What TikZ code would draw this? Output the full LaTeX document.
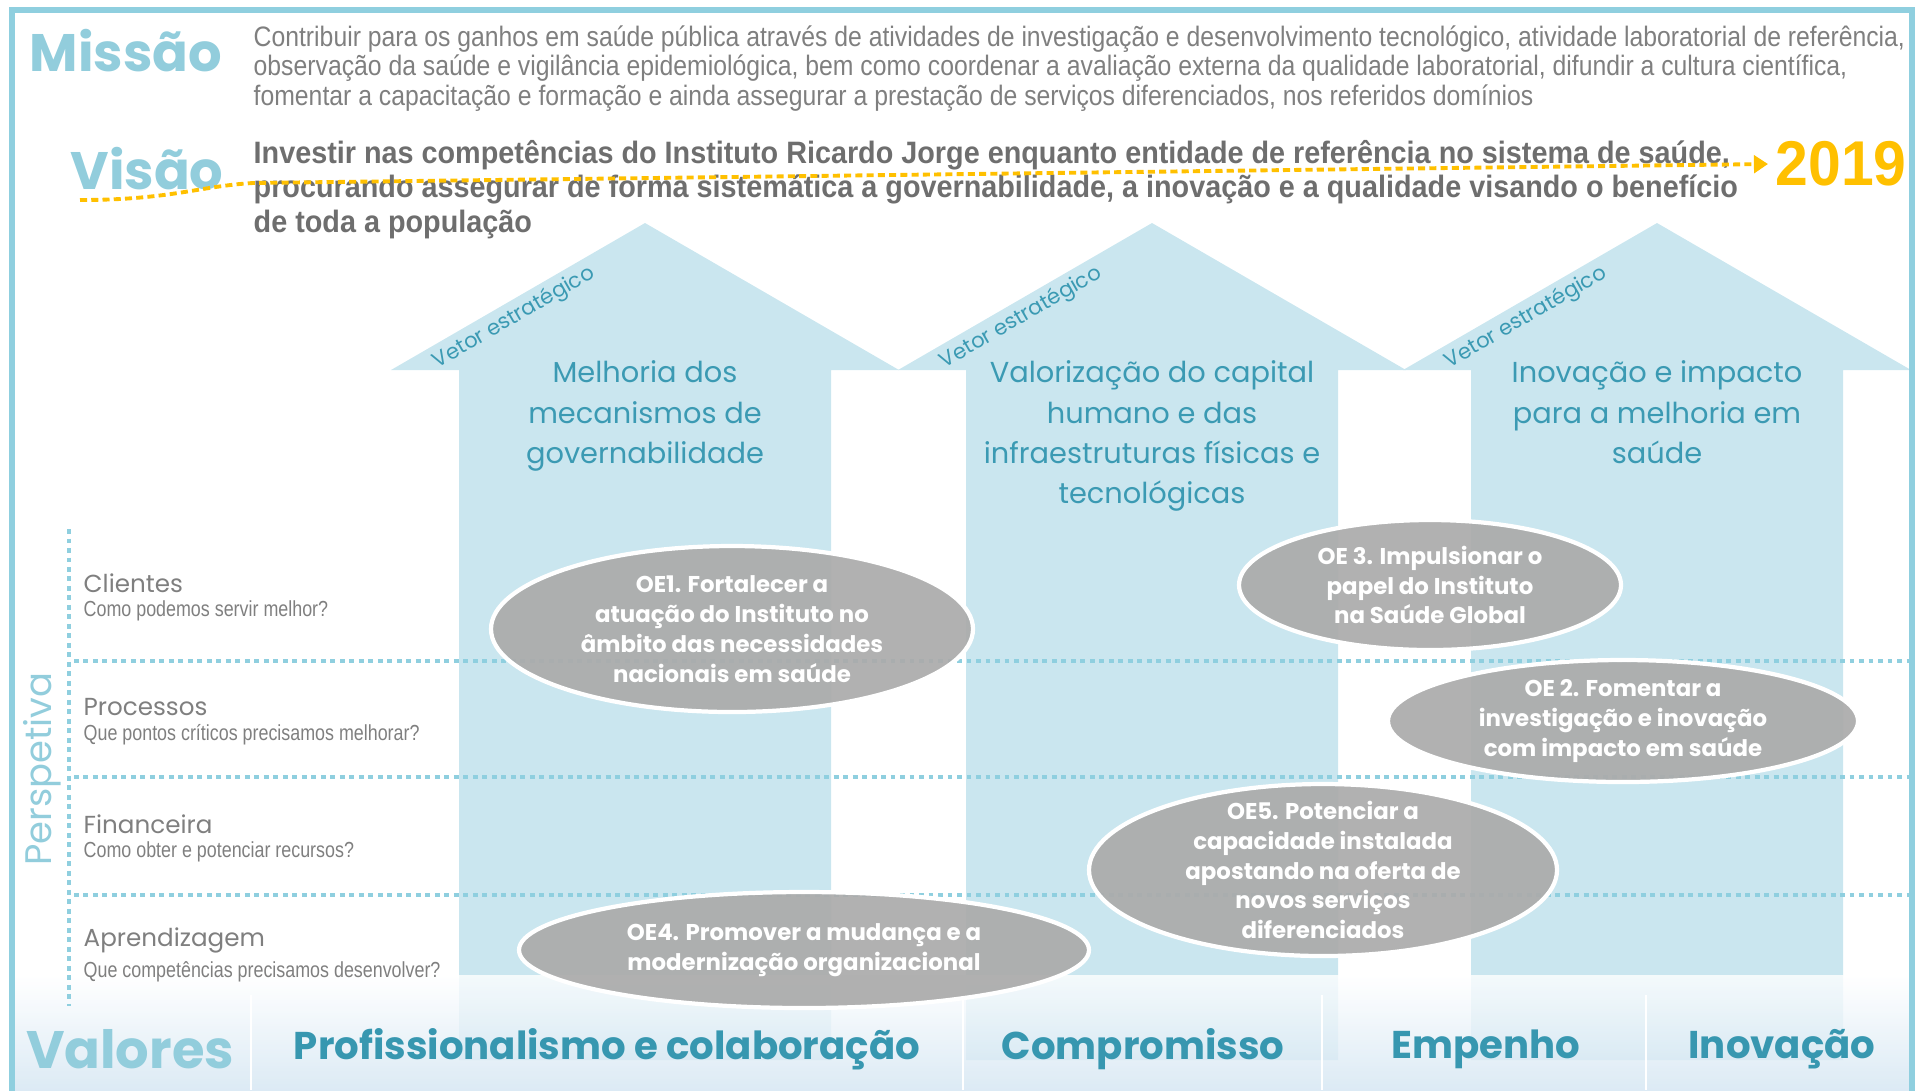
\documentclass[tikz,border=0pt]{standalone}
\usepackage{fontspec}
\setmainfont{Liberation Sans}
\newfontfamily\estreita[FakeStretch=0.82]{Liberation Sans}
\newfontfamily\estreitam[FakeStretch=0.88]{Liberation Sans}
\newfontfamily\estreitav[FakeStretch=0.93]{Liberation Sans}
\newfontfamily\gotica{Poppins}
\usetikzlibrary{positioning,arrows.meta}
\definecolor{azulclaro}{HTML}{CAE6EF}
\definecolor{azulmoldura}{HTML}{8FCFDF}
\definecolor{azultitulo}{HTML}{92CDDC}
\definecolor{azulescuro}{HTML}{3B9AB3}
\definecolor{azulvalor}{HTML}{3797B0}
\definecolor{cinza}{HTML}{7F7F7F}
\definecolor{cinzaesc}{HTML}{6E6E6E}
\definecolor{cinzaoe}{HTML}{ABABAB}
\definecolor{amarelo}{HTML}{FFC000}
\definecolor{faixa}{HTML}{D3E5F2}
\tikzstyle{vetor}=[fill=azulclaro]
\tikzstyle{pontilhado}=[draw=azulmoldura, line width=1.4pt, dash pattern=on 1.4pt off 1.3pt]
\tikzstyle{grande}=[font=\gotica\bfseries\fontsize{15}{15}\selectfont, text=azultitulo, inner sep=0pt]
\tikzstyle{missao}=[font=\estreitam\fontsize{8}{8.4}\selectfont, text=cinza, align=left, inner sep=0pt, anchor=north west]
\tikzstyle{visao}=[font=\estreitav\bfseries\fontsize{8.8}{9.7}\selectfont, text=cinzaesc, align=left, inner sep=0pt, anchor=north west]
\tikzstyle{ano}=[font=\estreitav\bfseries\fontsize{18}{18}\selectfont, text=amarelo, inner sep=0pt, anchor=west]
\tikzstyle{rotulo}=[font=\gotica\fontsize{6}{6}\selectfont, text=azulescuro, rotate=30, inner sep=0pt]
\tikzstyle{titulov}=[font=\gotica\fontsize{8.2}{11.5}\selectfont, text=azulescuro, align=center, inner sep=0pt, anchor=north]
\tikzstyle{persp}=[font=\gotica\fontsize{7}{7}\selectfont, text=cinza, inner sep=0pt, anchor=west]
\tikzstyle{pergunta}=[font=\estreita\fontsize{6.2}{6.2}\selectfont, text=cinza, inner sep=0pt]
\tikzstyle{oefundo}=[fill=cinzaoe, fill opacity=0.93, draw=white, line width=1.2pt]
\tikzstyle{oetexto}=[font=\gotica\bfseries\fontsize{6.5}{8.5}\selectfont, text=white, align=center, inner sep=0pt]
\tikzstyle{valor}=[font=\gotica\bfseries\fontsize{11}{11}\selectfont, text=azulvalor, inner sep=0pt]
% vetor: nome, centro x, titulo
\newcommand{\vetor}[3]{\fill[vetor] ({#2-254},370) -- (#2,223) -- ({#2+254},370) -- ({#2+186},370) -- ({#2+186},1060) -- ({#2-186},1060) -- ({#2-186},370) -- cycle;
  \node[rotulo] (#1v) at ({#2-131},318) {Vetor estratégico};
  \node[titulov] (#1) at (#2,360) {#3};}
% perspetiva: nome, y, titulo, pergunta
\newcommand{\linha}[4]{\node[persp] (#1) at (83,#2) {#3};
  \node[pergunta,below=2pt of #1.south west,anchor=north west] (#1q) {#4};}
% objetivo: nome, x, y, rx, ry, texto
\newcommand{\objetivo}[6]{\path[oefundo] (#2,#3) ellipse ({#4} and {#5});
  \node[oetexto] (#1) at (#2,#3) {#6};}

\begin{document}
\begin{tikzpicture}[x=0.01cm,y=-0.01cm]
  \useasboundingbox (0,0) rectangle (1919,1090);
  \vetor{gov}{645}{Melhoria dos\\mecanismos de\\governabilidade}
  \vetor{cap}{1152}{Valorização do capital\\humano e das\\infraestruturas físicas e\\tecnológicas}
  \vetor{ino}{1657}{Inovação e impacto\\para a melhoria em\\saúde}
  % faixa dos valores
  \shade[top color=white, bottom color=faixa, fill opacity=0.8] (14,975) rectangle (1910,1090);
  \foreach \xx in {251,963,1322,1646} \draw[white, line width=0.6pt] (\xx,995) -- (\xx,1090);
  % moldura
  \draw[azulmoldura, line width=1.8pt] (12,1095) |- (1912,10) -- (1912,1095);
  % grelha das perspetivas
  \draw[pontilhado] (69,529) -- (69,1006);
  \foreach \yy in {661,777,895} \draw[pontilhado] (74,\yy) -- (1910,\yy);
  \node[grande, font=\gotica\fontsize{10.5}{10.5}\selectfont, rotate=90] (perspetiva) at (42,769) {Perspetiva};
  \linha{clientes}{583}{Clientes}{Como podemos servir melhor?}
  \linha{processos}{707}{Processos}{Que pontos críticos precisamos melhorar?}
  \linha{financeira}{824}{Financeira}{Como obter e potenciar recursos?}
  \linha{aprendizagem}{940}{Aprendizagem}{Que competências precisamos desenvolver?}
  % objetivos estrategicos
  \objetivo{oe1}{732}{629}{241}{83}{OE1. Fortalecer a\\atuação do Instituto no\\âmbito das necessidades\\nacionais em saúde}
  \objetivo{oe3}{1430}{585}{191}{65}{OE 3. Impulsionar o\\papel do Instituto\\na Saúde Global}
  \objetivo{oe2}{1623}{721}{235}{61}{OE 2. Fomentar a\\investigação e inovação\\com impacto em saúde}
  \objetivo{oe5}{1323}{870}{234}{86}{OE5. Potenciar a\\capacidade instalada\\apostando na oferta de\\novos serviços\\diferenciados}
  \objetivo{oe4}{804}{950}{285}{58}{OE4. Promover a mudança e a\\modernização organizacional}
  % missao e visao
  \node[grande] (missao) at (126,51) {Missão};
  \node[missao] (textomissao) at (253,25) {Contribuir para os ganhos em saúde pública através de atividades de investigação e desenvolvimento tecnológico, atividade laboratorial de referência,\\observação da saúde e vigilância epidemiológica, bem como coordenar a avaliação externa da qualidade laboratorial, difundir a cultura científica,\\fomentar a capacitação e formação e ainda assegurar a prestação de serviços diferenciados, nos referidos domínios};
  \node[grande] (visao) at (147,169) {Visão};
  \node[visao] (textovisao) at (253,140) {Investir nas competências do Instituto Ricardo Jorge enquanto entidade de referência no sistema de saúde,\\procurando assegurar de forma sistemática a governabilidade, a inovação e a qualidade visando o benefício\\de toda a população};
  \node[ano] (ano) at (1775,164) {2019};
  \coordinate (inicio) at (80,200);
  \draw[amarelo, line width=1.1pt, dash pattern=on 2pt off 1.2pt, -{Triangle[length=4pt,width=5pt]}] (inicio) .. controls (170,200) and (200,186) .. (253,183) -- ([xshift=-2pt]ano.west);
  % valores
  \node[grande] (valores) at (130,1049) {Valores};
  \node[valor] (prof) at (607,1049) {Profissionalismo e colaboração};
  \node[valor] (comp) at (1143,1049) {Compromisso};
  \node[valor] (emp) at (1486,1049) {Empenho};
  \node[valor] (inov) at (1782,1049) {Inovação};
\end{tikzpicture}
\end{document}
